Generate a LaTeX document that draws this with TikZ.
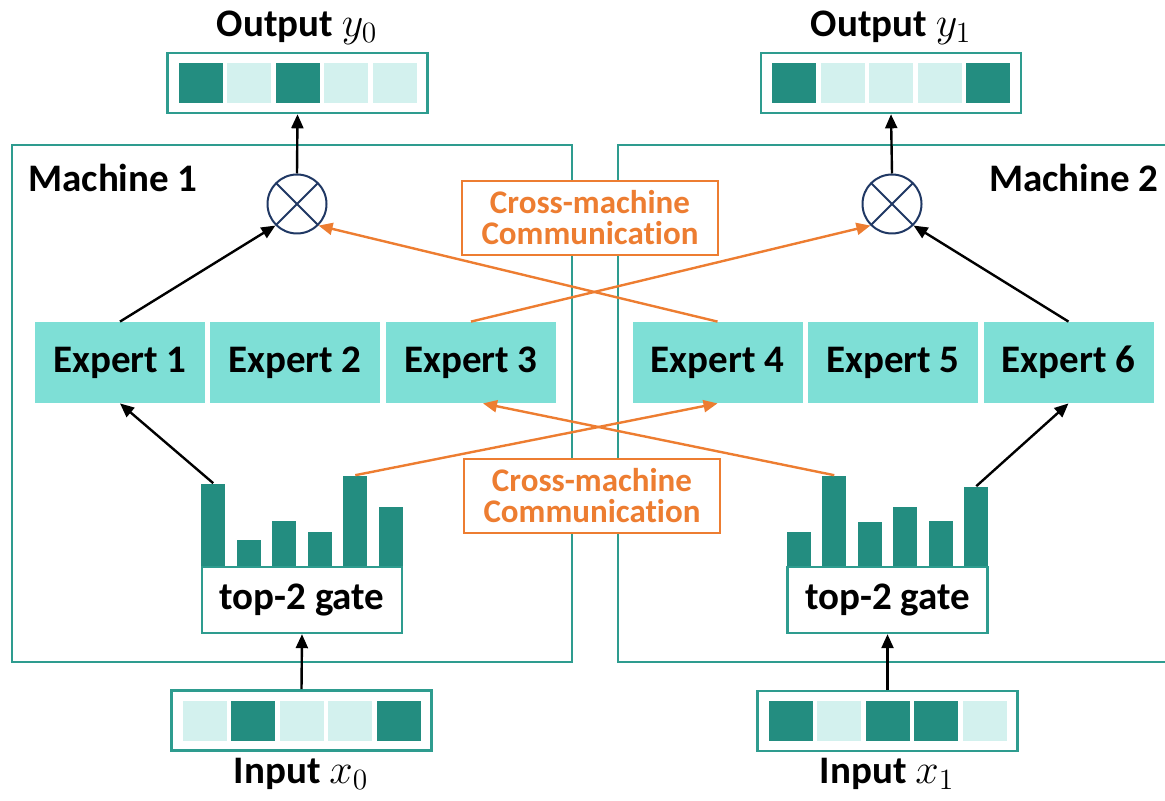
\RequirePackage{fix-cm}
\documentclass[tikz,border=0pt]{standalone}
\usepackage{fontspec}
\setmainfont{Carlito}[Ligatures=NoCommon]
\usetikzlibrary{arrows.meta,calc,positioning}
\definecolor{tealdark}{HTML}{238D80}
\definecolor{teallight}{HTML}{D3F1EE}
\definecolor{tealline}{HTML}{2E9C8F}
\definecolor{expertfill}{HTML}{7EDFD6}
\definecolor{commorange}{HTML}{ED7D31}
\definecolor{multnavy}{HTML}{203864}
\newcommand\lblfont{\fontsize{19.5}{22}\selectfont\bfseries}
\newcommand\commfont{\fontsize{16.5}{15.5}\selectfont\bfseries}
\newcommand\mathsz{\fontsize{21}{21}\selectfont}
\tikzset{
  blackarr/.style={-{Triangle[length=7pt,width=6pt]},line width=1.2pt,color=black},
  orangearr/.style={-{Triangle[length=7pt,width=6pt]},line width=1.2pt,color=commorange},
  machinebox/.style={draw=tealline,line width=1.2pt},
  expertbox/.style={fill=expertfill,minimum width=85pt,minimum height=40.5pt,inner sep=0pt,font=\lblfont},
  gatebox/.style={draw=tealline,fill=white,line width=1.2pt,minimum width=100pt,minimum height=33pt,inner sep=0pt,font=\lblfont},
  bar/.style={fill=tealdark,minimum width=12pt,inner sep=0pt,anchor=south},
  vecbox/.style={draw=tealline,fill=white,line width=1.3pt,minimum width=130pt,minimum height=30pt,inner sep=0pt},
  cell/.style={minimum width=22pt,minimum height=20pt,inner sep=0pt},
  commbox/.style={draw=commorange,fill=white,text=commorange,line width=1.2pt,align=center,minimum width=128pt,minimum height=37pt,inner sep=2pt,font=\commfont},
  mult/.style={circle,draw=multnavy,fill=white,line width=1pt,minimum size=29.5pt,inner sep=0pt,
    path picture={\draw[multnavy,line width=1pt]
      (path picture bounding box.north west)--(path picture bounding box.south east)
      (path picture bounding box.north east)--(path picture bounding box.south west);}},
  lbl/.style={font=\lblfont,inner sep=1pt}
}

\begin{document}
\begin{tikzpicture}[x=0.5pt,y=-0.5pt]
  \useasboundingbox (0,0) rectangle (1165,801);
  % machines
  \draw[machinebox] (12,145) rectangle (572,662);
  \draw[machinebox] (1165,145) -| (618,662) -- (1165,662);
  \node[lbl,anchor=west] (mach0) at (26,178) {Machine 1};
  \node[lbl,anchor=east] (mach1) at (1161,178) {Machine 2};

  % experts
  \node[expertbox] (e1) at (120,362.5) {Expert 1};
  \node[expertbox] (e2) at (295,362.5) {Expert 2};
  \node[expertbox] (e3) at (471,362.5) {Expert 3};
  \node[expertbox] (e4) at (717.5,362.5) {Expert 4};
  \node[expertbox] (e5) at (893,362.5) {Expert 5};
  \node[expertbox] (e6) at (1068.5,362.5) {Expert 6};

  % combiners
  \node[mult] (m0) at (297,204) {};
  \node[mult] (m1) at (892,204) {};

  % gates with their scores
  \foreach \h [count=\i, evaluate=\h as \bh using (567-\h)*0.5] in {484,540,521,532,476,507}
    \node[bar,minimum height=\bh pt] (g0b\i) at ({302+(\i-3.5)*35.5},567) {};
  \foreach \h [count=\i, evaluate=\h as \bh using (567-\h)*0.5] in {532,476,522,507,521,487}
    \node[bar,minimum height=\bh pt] (g1b\i) at ({887.5+(\i-3.5)*35.5},567) {};
  \node[gatebox] (g0) at (302,600) {top-2 gate};
  \node[gatebox] (g1) at (887.5,600) {top-2 gate};

  % cross-machine labels
  \node[commbox] (comm0) at (590,218) {Cross-machine\\Communication};
  \node[commbox] (comm1) at (592,496) {Cross-machine\\Communication};

  % outputs and inputs
  \node[vecbox] (out0) at (297.5,83) {};
  \node[vecbox] (out1) at (891,83) {};
  \node[vecbox] (in0) at (301.5,720.5) {};
  \node[vecbox] (in1) at (887.5,721) {};
  \foreach \c [count=\i] in {tealdark,teallight,tealdark,teallight,teallight}
    \node[cell,fill=\c] (out0c\i) at ($(out0)+({(\i-3)*48.5},0)$) {};
  \foreach \c [count=\i] in {tealdark,teallight,teallight,teallight,tealdark}
    \node[cell,fill=\c] (out1c\i) at ($(out1)+({(\i-3)*48.5},0)$) {};
  \foreach \c [count=\i] in {teallight,tealdark,teallight,teallight,tealdark}
    \node[cell,fill=\c] (in0c\i) at ($(in0)+({(\i-3)*48.5},0)$) {};
  \foreach \c [count=\i] in {tealdark,teallight,tealdark,tealdark,teallight}
    \node[cell,fill=\c] (in1c\i) at ($(in1)+({(\i-3)*48.5},0)$) {};
  \node[lbl] (out0lbl) at (297,28) {Output {\mathsz$y_0$}};
  \node[lbl] (out1lbl) at (891,28) {Output {\mathsz$y_1$}};
  \node[lbl] (in0lbl) at (301,774) {Input {\mathsz$x_0$}};
  \node[lbl] (in1lbl) at (887,774) {Input {\mathsz$x_1$}};

  % routing
  \draw[blackarr] (in0.north) -- (g0.south);
  \draw[blackarr] (in1.north) -- (g1.south);
  \draw[blackarr] (g0b1.north) -- (e1.south);
  \draw[blackarr] (g1b6.north) -- (e6.south);
  \draw[orangearr] (g0b5.north) -- (e4.south);
  \draw[orangearr] (g1b2.north) -- ([xshift=6pt]e3.south);
  \draw[blackarr] (e1.north) -- (m0.south west);
  \draw[blackarr] (e6.north) -- (m1.south east);
  \draw[orangearr] (e4.north) -- (m0.south east);
  \draw[orangearr] (e3.north) -- (m1.south west);
  \draw[blackarr] (m0.north) -- (out0.south);
  \draw[blackarr] (m1.north) -- (out1.south);
\end{tikzpicture}
\end{document}
